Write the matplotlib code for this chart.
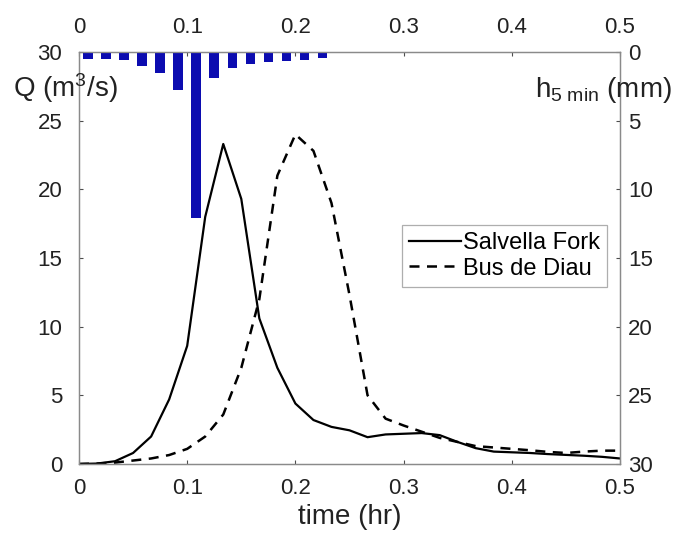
import matplotlib
matplotlib.use("Agg")
import matplotlib.pyplot as plt

plt.rcParams["font.family"] = ["Liberation Sans", "DejaVu Sans"]
plt.rcParams["mathtext.fontset"] = "custom"
plt.rcParams["mathtext.rm"] = "Liberation Sans"
plt.rcParams["mathtext.it"] = "Liberation Sans"

# ------------------------------------------------
# data, one value per minute
# ------------------------------------------------
minutes = list(range(31))
time_hr = [m / 60 for m in minutes]

q_salvella = [0.0, 0.03, 0.2, 0.8, 2.0, 4.7, 8.6, 18.0, 23.3, 19.3, 10.6,
              7.0, 4.4, 3.2, 2.7, 2.45, 1.95, 2.15, 2.2, 2.25, 2.1,
              1.6, 1.15, 0.9, 0.85, 0.8, 0.72, 0.66, 0.6, 0.52, 0.4]

q_bus = [0.0, 0.03, 0.1, 0.25, 0.4, 0.65, 1.1, 2.0, 3.6, 7.0, 12.0,
         21.0, 24.0, 22.8, 19.0, 12.3, 5.0, 3.3, 2.8, 2.35, 1.9,
         1.6, 1.3, 1.2, 1.1, 1.0, 0.88, 0.8, 0.9, 0.97, 0.97]

rain_t = [(i + 0.5) / 60 for i in range(14)]
rain_h = [0.5, 0.5, 0.6, 1.0, 1.5, 2.8, 12.1, 1.9, 1.2, 0.9, 0.7, 0.65, 0.55, 0.45]

xticks = [0, 0.1, 0.2, 0.3, 0.4, 0.5]
yticks = [0, 5, 10, 15, 20, 25, 30]

fs = 16
lab_fs = 20
txt_col = "#222222"
axis_col = "#4d4d4d"

fig = plt.figure(figsize=(6.91, 5.37), dpi=100)
ax = fig.add_axes([0.1143, 0.136, 0.7830, 0.7672])

ax.plot(time_hr, q_salvella, color="black", linewidth=1.6, label="Salvella Fork")
ax.plot(time_hr, q_bus, color="black", linewidth=1.8, linestyle=(0, (4, 3)),
        label="Bus de Diau")

ax.set_xlim(0, 0.5)
ax.set_ylim(0, 30)
ax.set_xticks(xticks)
ax.set_xticklabels(["0", "0.1", "0.2", "0.3", "0.4", "0.5"])
ax.set_yticks(yticks)
ax.tick_params(axis="both", direction="in", length=3, width=0.8,
               colors=axis_col, labelcolor=txt_col, labelsize=fs,
               top=True, labeltop=True)
ax.tick_params(axis="x", pad=10)
ax.tick_params(axis="y", pad=12)
ax.set_xlabel("time (hr)", fontsize=lab_fs, color=txt_col, labelpad=4)

# hyetograph on inverted right axis
ax2 = ax.twinx()
ax2.bar(rain_t, rain_h, width=0.0088, color="#0c0cb0", edgecolor="none")
ax2.set_ylim(30, 0)
ax2.set_yticks(yticks)
ax2.tick_params(axis="y", direction="in", length=3, width=0.8,
                colors=axis_col, labelcolor=txt_col, labelsize=fs, pad=6)

for a in (ax, ax2):
    for s in a.spines.values():
        s.set_color("#8a8a8a")
        s.set_linewidth(0.9)

# axis labels placed inside the top of the plot
fig.text(0.019, 0.819, "Q (m$^3$/s)", fontsize=lab_fs, color=txt_col, va="baseline")
fig.text(0.774, 0.819, "h$_{5\\ \\mathrm{min}}$ (mm)", fontsize=lab_fs,
         color=txt_col, va="baseline")

leg = ax.legend(loc="upper left", bbox_to_anchor=(0.597, 0.58), fontsize=17,
                frameon=True, fancybox=False, handlelength=2.2,
                handletextpad=0.1, borderpad=0.3, labelspacing=0.15,
                borderaxespad=0)
leg.get_frame().set_edgecolor("#9a9a9a")
leg.get_frame().set_linewidth(0.9)

fig.savefig("out.png", dpi=100)
plt.close(fig)
